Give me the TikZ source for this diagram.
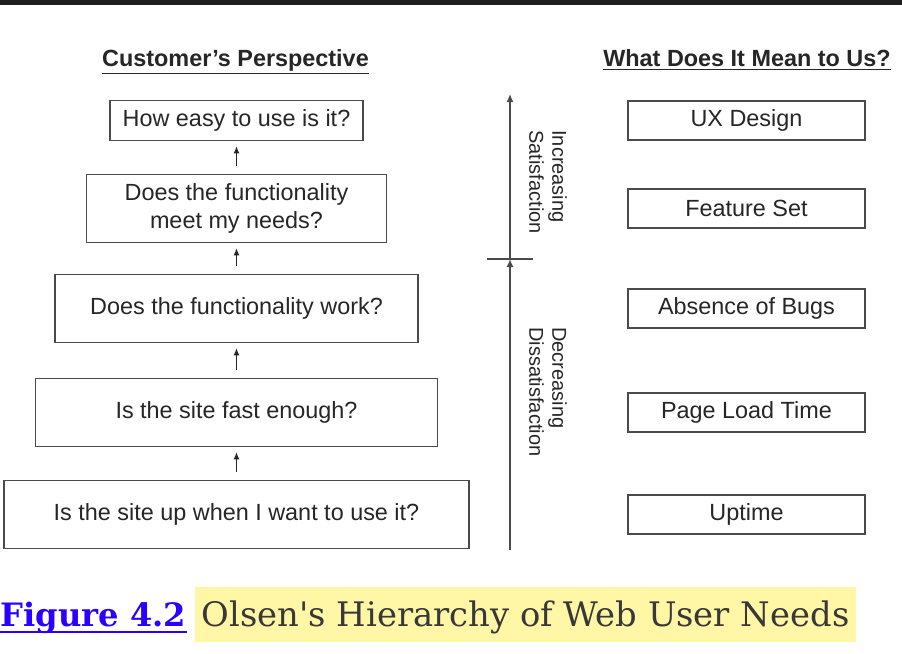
\documentclass[tikz,border=0pt]{standalone}
\usepackage{fontspec}
\setmainfont{Liberation Sans}
\newfontfamily\capfont{DejaVu Serif}
\usetikzlibrary{arrows.meta, positioning}

\definecolor{boxgray}{HTML}{4A4A4A}
\definecolor{inkgray}{HTML}{262626}
\definecolor{linkblue}{HTML}{2A00FF}
\definecolor{marker}{HTML}{FFF7A6}
\definecolor{capgray}{HTML}{383838}
\definecolor{topbar}{HTML}{1F1F1F}

\begin{document}
\begin{tikzpicture}[
    x=0.5pt, y=-0.5pt,
    node distance=16.25pt,
    every node/.style={font=\fontsize{11.7}{14}\selectfont, text=inkgray},
    need/.style={rectangle, draw=boxgray, line width=0.75pt, align=center,
        inner sep=0pt, minimum height=34pt},
    goal/.style={need, minimum width=118.5pt, minimum height=19.5pt},
    heading/.style={font=\fontsize{11.7}{14}\selectfont\bfseries, anchor=base},
    axislabel/.style={font=\fontsize{10}{11.5}\selectfont, align=left,
        rotate=-90, anchor=west, inner sep=0pt},
    uparrow/.style={-{Latex[length=3.5pt, width=3pt]}, line width=0.6pt, draw=inkgray,
        shorten <=4pt, shorten >=2.5pt},
    axisline/.style={line width=0.75pt, draw=boxgray},
    captext/.style={font=\capfont\fontsize{16.9}{20}\selectfont, text=capgray,
        anchor=base west, inner sep=0pt}
]
\fill[white] (0,0) rectangle (902,654);
\useasboundingbox (0,0) rectangle (902,654);
\fill[topbar] (0,0) rectangle (902,4.5);

% Titoli
\node[heading] (cust) at (235.5,66) {\underline{Customer’s Perspective}};
\node[heading] (us) at (747,66) {\underline{What Does It Mean to Us?}};

% Colonna sinistra
\node[need, minimum width=232.5pt] (up) at (236.5,514.5) {Is the site up when I want to use it?};
\node[need, minimum width=201pt, above=of up] (fast) {Is the site fast enough?};
\node[need, minimum width=181.5pt, above=17.25pt of fast] (work) {Does the functionality work?};
\node[need, minimum width=150pt, above=15.25pt of work] (meet) {Does the functionality\\ meet my needs?};
\node[need, minimum width=126.5pt, minimum height=20pt, above=of meet] (easy) {How easy to use is it?};

% Colonna destra
\coordinate (rcol) at (746.5,0);
\node[goal] (ux) at (rcol |- easy) {UX Design};
\node[goal] (feat) at (rcol |- meet) {Feature Set};
\node[goal] (bugs) at (rcol |- work) {Absence of Bugs};
\node[goal] (load) at (rcol |- fast) {Page Load Time};
\node[goal] (uptime) at (rcol |- up) {Uptime};

% Frecce
\draw[uparrow] (up) -- (fast);
\draw[uparrow] (fast) -- (work);
\draw[uparrow] (work) -- (meet);
\draw[uparrow] (meet) -- (easy);

% Asse centrale
\coordinate (axbot) at (510,550);
\coordinate (axmid) at (510,259);
\coordinate (axtop) at (510,94);
\draw[axisline, -{Latex[length=4pt, width=3.5pt]}] (axbot) -- (axmid);
\draw[axisline, -{Latex[length=4pt, width=3.5pt]}] (axmid) -- (axtop);
\draw[axisline] ([xshift=-11.5pt]axmid) -- ([xshift=11.5pt]axmid);
\node[axislabel] (incr) at (548,130) {Increasing\\ Satisfaction};
\node[axislabel] (decr) at (548,327) {Decreasing\\ Dissatisfaction};

% Didascalia
\node[captext, font=\capfont\bfseries\fontsize{16.1}{20}\selectfont, text=linkblue] (figref) at (0,626) {Figure 4.2};
\draw[linkblue, line width=1pt] ([yshift=-3pt]figref.base west) -- ([yshift=-3pt]figref.base east);
\node[captext, fill=marker, inner xsep=3.5pt, text height=19.5pt, text depth=8pt]
    (caption) at ([xshift=4pt]figref.base east) {Olsen's Hierarchy of Web User Needs};

\end{tikzpicture}
\end{document}
